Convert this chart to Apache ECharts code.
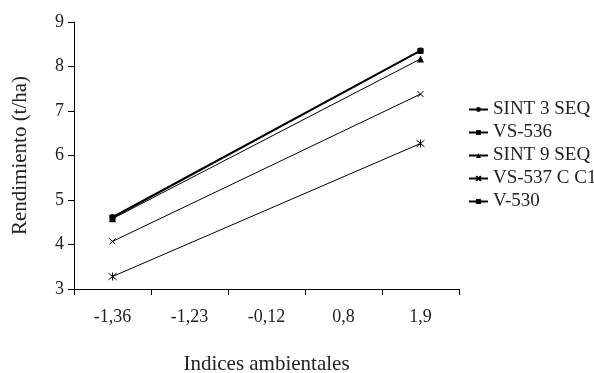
<!DOCTYPE html>
<html><head><meta charset="utf-8">
<script src="https://cdn.jsdelivr.net/npm/echarts@6/dist/echarts.min.js"></script>
<style>html,body{margin:0;padding:0;background:#fff}#c{width:594px;height:373px}</style>
</head><body><div id="c"></div>
<script>
const categories = ['-1,36', '-1,23', '-0,12', '0,8', '1,9'];
const seriesNames = ['SINT 3 SEQ', 'VS-536', 'SINT 9 SEQ', 'VS-537 C C1', 'V-530'];
const sint3 = [4.62, null, null, null, 8.36];
const vs536 = [4.60, null, null, null, 8.35];
const sint9 = [4.58, null, null, null, 8.17];
const vs537 = [4.07, null, null, null, 7.38];
const v530 = [3.28, null, null, null, 6.27];
const yTicks = [3, 9, 1];

const FONT = "'Liberation Serif', 'Times New Roman', serif";
const xPath = 'path://M0,0L10,10M10,0L0,10';
const starPath = 'path://M0,0L10,10M10,0L0,10M5,-1L5,11';
const symbols = [
  {symbol: 'circle', size: 6, style: {color: '#000'}},
  {symbol: 'rect', size: 6, style: {color: '#000'}},
  {symbol: 'triangle', size: 7, style: {color: '#000'}},
  {symbol: xPath, size: 6, style: {color: 'none', borderColor: '#000', borderWidth: 1}},
  {symbol: starPath, size: 8, style: {color: 'none', borderColor: '#000', borderWidth: 1}}
];
const datas = [sint3, vs536, sint9, vs537, v530];

const chart = echarts.init(document.getElementById('c'));
chart.setOption({
  animation: false,
  backgroundColor: '#fff',
  grid: {left: 74, right: 135, top: 22, bottom: 84, containLabel: false, outerBoundsMode: 'none'},
  legend: {
    orient: 'vertical', left: 468, top: 100, padding: 0,
    itemWidth: 19, itemHeight: 6, itemGap: 4,
    textStyle: {fontFamily: FONT, fontSize: 19, color: '#222', lineHeight: 19},
    data: seriesNames
  },
  xAxis: {
    type: 'category', data: categories, boundaryGap: true,
    name: 'Indices ambientales', nameLocation: 'middle', nameGap: 65,
    nameTextStyle: {fontFamily: FONT, fontSize: 21, color: '#222'},
    axisLine: {lineStyle: {color: '#000', width: 1}},
    axisTick: {show: true, length: 6, alignWithLabel: false, lineStyle: {color: '#000'}},
    axisLabel: {fontFamily: FONT, fontSize: 18, color: '#222', margin: 19}
  },
  yAxis: {
    type: 'value', min: yTicks[0], max: yTicks[1], interval: yTicks[2],
    name: 'Rendimiento (t/ha)', nameLocation: 'middle', nameGap: 43,
    nameTextStyle: {fontFamily: FONT, fontSize: 21, color: '#222'},
    splitLine: {show: false},
    axisLine: {show: true, lineStyle: {color: '#000', width: 1}},
    axisTick: {show: true, length: 6, lineStyle: {color: '#000'}},
    axisLabel: {fontFamily: FONT, fontSize: 18, color: '#222', margin: 10}
  },
  series: datas.map((d, i) => ({
    name: seriesNames[i], type: 'line', data: d, connectNulls: true,
    symbol: symbols[i].symbol, symbolSize: symbols[i].size,
    showAllSymbol: true,
    lineStyle: {color: '#000', width: i < 2 ? 1.5 : 1},
    itemStyle: Object.assign({}, symbols[i].style),
    color: '#000'
  }))
});
</script></body></html>
